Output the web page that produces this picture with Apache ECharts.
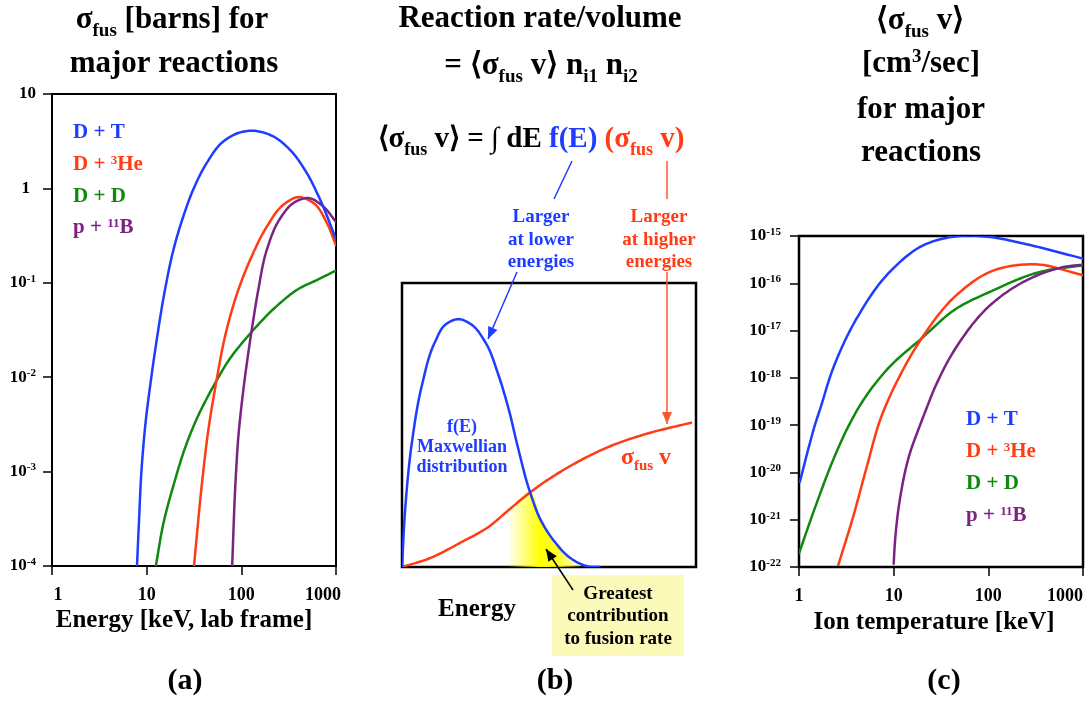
<!DOCTYPE html>
<html><head><meta charset="utf-8">
<script src="https://cdn.jsdelivr.net/npm/echarts@6/dist/echarts.min.js"></script>
<style>html,body{margin:0;padding:0;background:#fff}#c{width:1087px;height:702px}</style>
</head><body><div id="c"></div>
<script>
// ---------- data: panel (a) cross sections [barns] vs lab energy [keV] ----------
const aDT_E = [7.9, 8.3, 8.8, 9.8, 11.2, 12.7, 15.6, 19.1, 24.3, 31, 43, 64.5, 97, 129, 218, 327, 492, 681, 1000];
const aDT_S = [1e-4, 3e-4, 1e-3, 3.5e-3, 1e-2, 0.024, 0.084, 0.22, 0.5, 0.97, 1.85, 3.14, 3.92, 4.08, 3.55, 2.56, 1.45, 0.757, 0.29];
const aDHe_E = [31.6, 38.7, 44.8, 54, 70, 97, 124, 185, 278, 401, 578, 801, 1000];
const aDHe_S = [1e-4, 8.1e-4, 2.75e-3, 8.6e-3, 0.032, 0.095, 0.175, 0.39, 0.67, 0.81, 0.70, 0.43, 0.25];
const aDD_E = [12.5, 15, 19.9, 24.3, 33.7, 52.7, 70, 124, 257, 385, 628, 1000];
const aDD_S = [1e-4, 2.8e-4, 8.1e-4, 1.56e-3, 3.6e-3, 8.6e-3, 0.014, 0.029, 0.061, 0.084, 0.107, 0.135];
const apB_E = [80, 87, 93, 105, 129, 151, 185, 257, 355, 512, 738, 1000];
const apB_S = [1e-4, 8.1e-4, 2.34e-3, 7.3e-3, 0.032, 0.084, 0.22, 0.48, 0.70, 0.79, 0.64, 0.44];
const aXTicks = ['1', '10', '100', '1000'];

// ---------- data: panel (b) schematic (normalised energy, normalised height) ----------
const bF_X = [0, 0.011, 0.034, 0.068, 0.113, 0.147, 0.192, 0.237, 0.282, 0.328, 0.362, 0.395, 0.435, 0.475, 0.52, 0.576, 0.633, 0.672];
const bF_Y = [0, 0.206, 0.441, 0.641, 0.794, 0.853, 0.873, 0.853, 0.794, 0.676, 0.559, 0.418, 0.265, 0.159, 0.088, 0.029, 0.002, 0];
const bS_X = [0, 0.09, 0.203, 0.294, 0.362, 0.435, 0.486, 0.599, 0.712, 0.825, 0.983];
const bS_Y = [0, 0.029, 0.088, 0.141, 0.2, 0.262, 0.3, 0.371, 0.427, 0.467, 0.508];
const bCross = 0.435;          // where f(E) and sigma*v meet
const bGlowStart = 0.294;      // left end of the highlighted product region

// ---------- data: panel (c) reactivity [cm^3/s] vs ion temperature [keV] ----------
const cDT_T = [1.02, 1.3, 1.47, 1.66, 2.29, 4.05, 9.1, 20.5, 46, 104, 235, 1000];
const cDT_R = [6.3e-21, 4.1e-20, 1.0e-19, 2.1e-19, 1.58e-18, 1.78e-17, 1.74e-16, 6.35e-16, 9.86e-16, 9.55e-16, 6.92e-16, 3.33e-16];
const cDHe_T = [2.6, 3.73, 5.2, 7.4, 11.6, 19.7, 46, 104, 312, 1000];
const cDHe_R = [1.1e-22, 1.15e-21, 1.32e-20, 1.5e-19, 1.1e-18, 6.8e-18, 5.6e-17, 1.74e-16, 2.52e-16, 1.48e-16];
const cDD_T = [1, 1.53, 2.29, 3.44, 4.39, 9.1, 19.7, 46, 104, 352, 1000];
const cDD_R = [1.95e-22, 2.19e-21, 1.82e-20, 1.08e-19, 2.58e-19, 1.73e-18, 6.8e-18, 2.92e-17, 6.6e-17, 1.74e-16, 2.4e-16];
const cpB_T = [10, 10.3, 11.6, 14.8, 19, 22.3, 26, 46, 104, 235, 622, 1000];
const cpB_R = [1.17e-22, 3.2e-22, 2.6e-21, 2.5e-20, 1.0e-19, 2.3e-19, 5.0e-19, 4.5e-18, 3.4e-17, 1.07e-16, 2.2e-16, 2.48e-16];

const legendNames = ['D + T', 'D + {sup|3}He', 'D + D', 'p + {sup|11}B'];

// ---------- styles ----------
const FF = '"Liberation Serif","Times New Roman",serif';
const BLUE = '#1f3dff', RED = '#ff3c14', GREEN = '#0f8a0f', PURPLE = '#7a2382';
const zip = (a, b) => a.map((v, i) => [v, b[i]]);

function tok(size, color) {
  return { fontFamily: FF, fontWeight: 'bold', fontSize: size, fill: color, color: color };
}
function richSet(size, color) {
  const s = Math.round(size * 0.62);
  return {
    m: tok(size, color),
    b: tok(size, BLUE),
    r: tok(size, RED),
    sub: Object.assign(tok(s, color), { padding: [Math.round(size * 0.7), 0, 0, 0] }),
    subr: Object.assign(tok(s, RED), { padding: [Math.round(size * 0.7), 0, 0, 0] }),
    sup: Object.assign(tok(s, color), { padding: [0, 0, Math.round(size * 0.45), 0] })
  };
}
function T(x, y, text, size, color, align) {
  const rich = richSet(size, color || '#000');
  const t = text.indexOf('{') === 0 ? text : '{m|' + text + '}';
  return {
    type: 'text', x: x, y: y, z: 100, silent: true,
    style: { text: t, rich: rich, align: align || 'center', textAlign: align || 'center',
      verticalAlign: 'middle', textVerticalAlign: 'middle',
      fontFamily: FF, fontWeight: 'bold', fontSize: size, fill: color || '#000' }
  };
}
function arrow(x1, y1, x2, y2, color, w, head) {
  const out = [{ type: 'line', z: 90, silent: true, shape: { x1: x1, y1: y1, x2: x2, y2: y2 }, style: { stroke: color, lineWidth: w } }];
  if (head) {
    const dx = x2 - x1, dy = y2 - y1, L = Math.sqrt(dx * dx + dy * dy);
    const ux = dx / L, uy = dy / L, hl = 12, hw = 5;
    const bx = x2 - ux * hl, by = y2 - uy * hl;
    out.push({ type: 'polygon', z: 91, silent: true,
      shape: { points: [[x2, y2], [bx - uy * hw, by + ux * hw], [bx + uy * hw, by - ux * hw]] },
      style: { fill: color } });
  }
  return out;
}

function logLabel(v) {
  v = Number(v);
  if (!(v > 0) || !isFinite(v)) return '';
  const e = Math.round(Math.log10(v));
  if (e === 1) return '{m|10}';
  if (e === 0) return '{one|1}';
  return '{m|10}{sup|' + e + '}';
}
const axRich = {
  m: { fontFamily: FF, fontWeight: 'bold', fontSize: 17, color: '#000' },
  x: { fontFamily: FF, fontWeight: 'bold', fontSize: 18, color: '#000' },
  one: { fontFamily: FF, fontWeight: 'bold', fontSize: 17, color: '#000', padding: [0, 6, 0, 0] },
  sup: { fontFamily: FF, fontWeight: 'bold', fontSize: 11, color: '#000', padding: [0, 0, 8, 0] },
  first: { fontFamily: FF, fontWeight: 'bold', fontSize: 18, color: '#000', padding: [0, 0, 0, 12] },
  lastA: { fontFamily: FF, fontWeight: 'bold', fontSize: 18, color: '#000', padding: [0, 26, 0, 0] },
  lastC: { fontFamily: FF, fontWeight: 'bold', fontSize: 18, color: '#000', padding: [0, 36, 0, 0] }
};
function xIndex(v) { v = Number(v); if (!(v > 0) || !isFinite(v)) return -1; return Math.round(Math.log10(v)); }
function xLabelA(v) {
  const i = xIndex(v);
  if (i < 0 || i > 3) return '';
  if (i === 0) return '{first|' + aXTicks[0] + '}';
  if (i === 3) return '{lastA|' + aXTicks[3] + '}';
  return '{x|' + aXTicks[i] + '}';
}
function xLabelC(v) {
  const i = xIndex(v);
  if (i < 0 || i > 3) return '';
  if (i === 3) return '{lastC|' + aXTicks[3] + '}';
  return '{x|' + aXTicks[i] + '}';
}

const axisCommon = {
  axisLine: { show: true, lineStyle: { color: '#000', width: 2 } },
  axisTick: { show: true, inside: false, length: 9, lineStyle: { color: '#000', width: 1.5 } },
  splitLine: { show: false }, minorTick: { show: false }, minorSplitLine: { show: false }
};

// smooth rendering (cubic Hermite, chord-length parameterised) of pixel points obtained from the axes
function smoothPts(P) {
  const n = P.length;
  if (n < 3) return P;
  const h = [];
  for (let i = 0; i < n - 1; i++) h.push(Math.max(1e-6, Math.hypot(P[i + 1][0] - P[i][0], P[i + 1][1] - P[i][1])));
  const m = P.map((p, i) => {
    if (i === 0) return [(P[1][0] - P[0][0]) / h[0], (P[1][1] - P[0][1]) / h[0]];
    if (i === n - 1) return [(P[i][0] - P[i - 1][0]) / h[i - 1], (P[i][1] - P[i - 1][1]) / h[i - 1]];
    const h0 = h[i - 1], h1 = h[i];
    const d0 = [(P[i][0] - P[i - 1][0]) / h0, (P[i][1] - P[i - 1][1]) / h0];
    const d1 = [(P[i + 1][0] - P[i][0]) / h1, (P[i + 1][1] - P[i][1]) / h1];
    return [(d0[0] * h1 + d1[0] * h0) / (h0 + h1), (d0[1] * h1 + d1[1] * h0) / (h0 + h1)];
  });
  const out = [P[0]];
  for (let i = 0; i < n - 1; i++) {
    const a = P[i], b = P[i + 1], hh = h[i];
    const c1 = [a[0] + m[i][0] * hh / 3, a[1] + m[i][1] * hh / 3];
    const c2 = [b[0] - m[i + 1][0] * hh / 3, b[1] - m[i + 1][1] * hh / 3];
    const steps = Math.max(4, Math.ceil(hh / 3));
    for (let k = 1; k <= steps; k++) {
      const s = k / steps, r = 1 - s;
      out.push([
        r * r * r * a[0] + 3 * r * r * s * c1[0] + 3 * r * s * s * c2[0] + s * s * s * b[0],
        r * r * r * a[1] + 3 * r * r * s * c1[1] + 3 * r * s * s * c2[1] + s * s * s * b[1]
      ]);
    }
  }
  return out;
}

function curve(idx, data, color, z) {
  return {
    type: 'custom', xAxisIndex: idx, yAxisIndex: idx, data: data, clip: true, silent: true, z: z || 5,
    renderItem: function (params, api) {
      if (params.dataIndex !== 0) return null;
      const P = data.map(d => api.coord(d));
      return { type: 'polyline', shape: { points: smoothPts(P) },
        style: { stroke: color, lineWidth: 2.5, fill: null, lineJoin: 'round', lineCap: 'round' } };
    }
  };
}

// highlighted region under min(f, sigma v): sigma v readings left of the crossing, f readings right of it
const glowData = zip(bS_X, bS_Y).filter(p => p[0] >= bGlowStart && p[0] < bCross)
  .concat(zip(bF_X, bF_Y).filter(p => p[0] >= bCross));

const glowSeries = {
  type: 'custom', xAxisIndex: 1, yAxisIndex: 1, data: glowData, clip: true, silent: true, z: 2,
  renderItem: function (params, api) {
    if (params.dataIndex !== 0) return null;
    const P = smoothPts(glowData.map(d => api.coord(d)));
    const first = glowData[0], last = glowData[glowData.length - 1];
    P.push(api.coord([last[0], 0]));
    P.push(api.coord([first[0], 0]));
    return { type: 'polygon', shape: { points: P },
      style: { fill: new echarts.graphic.LinearGradient(0, 0, 1, 0, [
        { offset: 0, color: 'rgba(255,255,0,0)' },
        { offset: 0.17, color: 'rgba(255,255,0,0)' },
        { offset: 0.47, color: 'rgba(255,255,0,1)' },
        { offset: 0.62, color: 'rgba(255,255,0,0.85)' },
        { offset: 0.86, color: 'rgba(255,255,0,0)' },
        { offset: 1, color: 'rgba(255,255,0,0)' }]), stroke: null } };
  }
};

const option = {
  animation: false,
  backgroundColor: '#ffffff',
  grid: [
    { left: 52, top: 94, width: 284, height: 472, show: true, borderColor: '#000', borderWidth: 2, backgroundColor: 'rgba(0,0,0,0)', outerBoundsMode: 'none' },
    { left: 402, top: 283, width: 294, height: 284, show: true, borderColor: '#000', borderWidth: 2.5, backgroundColor: 'rgba(0,0,0,0)', outerBoundsMode: 'none' },
    { left: 799, top: 236, width: 284, height: 331, show: true, borderColor: '#000', borderWidth: 2.5, backgroundColor: 'rgba(0,0,0,0)', outerBoundsMode: 'none' }
  ],
  xAxis: [
    Object.assign({ gridIndex: 0, type: 'log', logBase: 10, min: 1, max: 1000, splitNumber: 3,
      axisLabel: { margin: 20, formatter: xLabelA, rich: axRich, showMinLabel: true, showMaxLabel: true, hideOverlap: false } }, axisCommon),
    { gridIndex: 1, type: 'value', min: 0, max: 1, show: false },
    Object.assign({ gridIndex: 2, type: 'log', logBase: 10, min: 1, max: 1000, splitNumber: 3,
      axisLabel: { margin: 20, formatter: xLabelC, rich: axRich, showMinLabel: true, showMaxLabel: true, hideOverlap: false } }, axisCommon)
  ],
  yAxis: [
    Object.assign({ gridIndex: 0, type: 'log', logBase: 10, min: 1e-4, max: 10, splitNumber: 5,
      axisLabel: { margin: 16, formatter: logLabel, rich: axRich, showMinLabel: true, showMaxLabel: true, hideOverlap: false } }, axisCommon),
    { gridIndex: 1, type: 'value', min: 0, max: 1, show: false },
    Object.assign({ gridIndex: 2, type: 'log', logBase: 10, min: 0.99999e-22, max: 1e-15, splitNumber: 7,
      axisLabel: { margin: 18, formatter: logLabel, rich: axRich, showMinLabel: true, showMaxLabel: true, hideOverlap: false } }, axisCommon)
  ],
  series: [
    curve(0, zip(aDD_E, aDD_S), GREEN),
    curve(0, zip(aDHe_E, aDHe_S), RED),
    curve(0, zip(apB_E, apB_S), PURPLE),
    curve(0, zip(aDT_E, aDT_S), BLUE),
    glowSeries,
    curve(1, zip(bS_X, bS_Y), RED),
    curve(1, zip(bF_X, bF_Y), BLUE, 6),
    curve(2, zip(cDD_T, cDD_R), GREEN),
    curve(2, zip(cDHe_T, cDHe_R), RED),
    curve(2, zip(cpB_T, cpB_R), PURPLE),
    curve(2, zip(cDT_T, cDT_R), BLUE)
  ],
  graphic: [].concat(
    [
      // panel titles
      T(172, 20, '{m|σ}{sub|fus}{m| [barns] for}', 31),
      T(174, 64, 'major reactions', 31),
      T(540, 19, 'Reaction rate/volume', 31),
      T(541, 66, '{m|= ⟨σ}{sub|fus}{m| v⟩ n}{sub|i1}{m| n}{sub|i2}', 31),
      T(531, 140, '{m|⟨σ}{sub|fus}{m| v⟩ = ∫ dE }{b|f(E)}{r| (σ}{subr|fus}{r| v)}', 29),
      T(920, 21, '{m|⟨σ}{sub|fus}{m| v⟩}', 31),
      T(921, 64, '{m|[cm}{sup|3}{m|/sec]}', 31),
      T(921, 110, 'for major', 31),
      T(921, 153, 'reactions', 31),
      // legends
      T(73, 133, legendNames[0], 21, BLUE, 'left'),
      T(73, 165, '{m|D + }{sup|3}{m|He}', 21, RED, 'left'),
      T(73, 197, legendNames[2], 21, GREEN, 'left'),
      T(73, 228, '{m|p + }{sup|11}{m|B}', 21, PURPLE, 'left'),
      T(966, 420, legendNames[0], 21, BLUE, 'left'),
      T(966, 452, '{m|D + }{sup|3}{m|He}', 21, RED, 'left'),
      T(966, 484, legendNames[2], 21, GREEN, 'left'),
      T(966, 516, '{m|p + }{sup|11}{m|B}', 21, PURPLE, 'left'),
      // axis titles
      T(184, 621, 'Energy [keV, lab frame]', 25),
      T(477, 610, 'Energy', 25),
      T(934, 623, 'Ion temperature [keV]', 25),
      T(185, 681, '(a)', 30),
      T(555, 681, '(b)', 30),
      T(944, 681, '(c)', 30),
      // panel (b) annotations
      T(541, 217, 'Larger', 19, BLUE),
      T(541, 240, 'at lower', 19, BLUE),
      T(541, 262, 'energies', 19, BLUE),
      T(659, 217, 'Larger', 19, RED),
      T(659, 240, 'at higher', 19, RED),
      T(659, 262, 'energies', 19, RED),
      T(462, 427, 'f(E)', 18, BLUE),
      T(462, 447, 'Maxwellian', 18, BLUE),
      T(462, 467, 'distribution', 18, BLUE),
      T(646, 458, '{r|σ}{subr|fus}{r| v}', 24, RED),
      { type: 'rect', z: 80, silent: true, shape: { x: 552, y: 575, width: 132, height: 81 }, style: { fill: '#fcfab9' } },
      T(618, 594, 'Greatest', 19),
      T(618, 616, 'contribution', 19),
      T(618, 639, 'to fusion rate', 19)
    ],
    arrow(572, 161, 554, 199, BLUE, 1.5, false),
    arrow(667, 161, 667, 199, '#ff5533', 1.5, false),
    arrow(517, 272, 488, 339, BLUE, 1.5, true),
    arrow(667, 272, 667, 424, '#ff5533', 1.5, true),
    arrow(573, 590, 546, 549, '#000', 1.5, true)
  )
};
const chart = echarts.init(document.getElementById('c'), null, { renderer: 'canvas' });
chart.setOption(option);
</script></body></html>
